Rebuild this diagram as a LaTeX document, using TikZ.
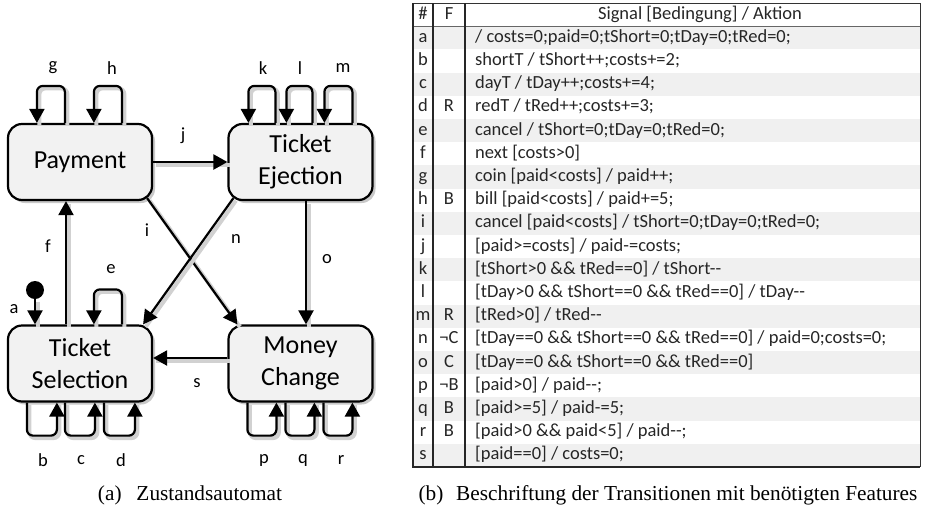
\documentclass[tikz,border=0pt]{standalone}
\usepackage{fontspec}
\setmainfont{Liberation Serif}
\newfontfamily\calib{Carlito}
\usetikzlibrary{arrows.meta,shadows,calc}
\definecolor{boxgray}{HTML}{F2F2F2}
\definecolor{rowgray}{HTML}{F0F0F0}
\tikzset{
  state/.style={draw, line width=2.2pt, rounded corners=14pt, fill=boxgray,
    minimum width=144pt, minimum height=76pt, inner sep=0pt, align=center,
    font=\calib\fontsize{26}{32}\selectfont,
    drop shadow={shadow xshift=3pt, shadow yshift=-3pt, fill=black!30, opacity=0.7}},
  trans/.style={line width=2.2pt, -{Triangle[length=14pt,width=15pt]},
    preaction={draw=black!18, line width=4pt, -, transform canvas={shift={(2.5pt,-2.5pt)}}}},
  selfloop/.style={trans, rounded corners=6pt},
  lab/.style={font=\calib\fontsize{18.5}{20}\selectfont, inner sep=0pt},
  cell/.style={font=\calib\fontsize{18.5}{22}\selectfont, text=black!85, inner sep=0pt,
    text height=13pt, text depth=4pt},
  capstyle/.style={font=\fontsize{21.3}{25}\selectfont, inner sep=0pt, anchor=base}
}
\begin{document}
\begin{tikzpicture}[x=1pt,y=-1pt]
\useasboundingbox (0,0) rectangle (927,512);
% states
\node[state] (pay) at (80,162) {Payment};
\node[state] (te) at (300.5,162) {Ticket\\Ejection};
\node[state] (sel) at (80,363.5) {Ticket\\Selection};
\node[state] (mc) at (300.5,363.5) {Money\\Change};
% helper coordinates
\coordinate (fx) at (66,0);
\coordinate (ox) at (306,0);
\coordinate (sy) at (0,358);
% initial state
\node[circle, fill=black, minimum size=18pt, inner sep=0pt] (init) at (35,290) {};
\draw[trans] (init) -- (init |- sel.north);
% self loops Payment
\draw[selfloop] ([xshift=58pt]pay.north west) -- ++(0,-37) -| ([xshift=30pt]pay.north west);
\draw[selfloop] ([xshift=115pt]pay.north west) -- ++(0,-37) -| ([xshift=87pt]pay.north west);
% self loops Ticket Ejection
\draw[selfloop] ([xshift=48pt]te.north west) -- ++(0,-37) -| ([xshift=21pt]te.north west);
\draw[selfloop] ([xshift=85pt]te.north west) -- ++(0,-37) -| ([xshift=59pt]te.north west);
\draw[selfloop] ([xshift=125pt]te.north west) -- ++(0,-37) -| ([xshift=97pt]te.north west);
% self loop e
\draw[selfloop] ([xshift=115pt]sel.north west) -- ++(0,-35) -| ([xshift=87pt]sel.north west);
% bottom loops Ticket Selection
\draw[selfloop] ([xshift=20pt]sel.south west) -- ++(0,33) -| ([xshift=50pt]sel.south west);
\draw[selfloop] ([xshift=58pt]sel.south west) -- ++(0,33) -| ([xshift=88pt]sel.south west);
\draw[selfloop] ([xshift=97pt]sel.south west) -- ++(0,33) -| ([xshift=128pt]sel.south west);
% bottom loops Money Change
\draw[selfloop] ([xshift=20pt]mc.south west) -- ++(0,33) -| ([xshift=49pt]mc.south west);
\draw[selfloop] ([xshift=58pt]mc.south west) -- ++(0,33) -| ([xshift=87pt]mc.south west);
\draw[selfloop] ([xshift=96pt]mc.south west) -- ++(0,33) -| ([xshift=125pt]mc.south west);
% transitions
\draw[trans] (pay.east) -- (te.west);
\draw[trans] (sel.north -| fx) -- (pay.south -| fx);
\draw[trans] (te.south -| ox) -- (mc.north -| ox);
\draw[trans] (mc.west |- sy) -- (sel.east |- sy);
\draw[trans] ($(pay.south east)+(-6,-3)$) -- ($(mc.north west)+(10,0)$);
\draw[trans] ($(te.south west)+(6,-3)$) -- ($(sel.north east)+(-10,0)$);
% labels
\node[lab] at (53,68) {g};
\node[lab] at (112,68) {h};
\node[lab] at (263,68) {k};
\node[lab] at (300,68) {l};
\node[lab] at (343,68) {m};
\node[lab] at (183,136) {j};
\node[lab] at (147,230) {i};
\node[lab] at (236,239) {n};
\node[lab] at (48,246) {f};
\node[lab] at (327,259) {o};
\node[lab] at (111,269) {e};
\node[lab] at (14,309) {a};
\node[lab] at (197,383) {s};
\node[lab] at (43,460) {b};
\node[lab] at (81,460) {c};
\node[lab] at (121,460) {d};
\node[lab] at (264,460) {p};
\node[lab] at (303,460) {q};
\node[lab] at (341,460) {r};
% table
\foreach \k in {1,3,...,19}
  \fill[rowgray] (413,{3+23.2*\k}) rectangle (920,{3+23.2*(\k+1)});
\node[cell] (h1) at (423,{3+23.2*0.5}) {\#};
\node[cell] (h2) at (449,{3+23.2*0.5}) {F};
\node[cell] (h3) at (700,{3+23.2*0.5}) {Signal [Bedingung] / Aktion};
\foreach \c/\f/\t [count=\i] in {
  a/{}/{/ costs=0;paid=0;tShort=0;tDay=0;tRed=0;},
  b/{}/{shortT / tShort++;costs+=2;},
  c/{}/{dayT / tDay++;costs+=4;},
  d/{R}/{redT / tRed++;costs+=3;},
  e/{}/{cancel / tShort=0;tDay=0;tRed=0;},
  f/{}/{next [costs>0]},
  g/{}/{coin [paid<costs] / paid++;},
  h/{B}/{bill [paid<costs] / paid+=5;},
  i/{}/{cancel [paid<costs] / tShort=0;tDay=0;tRed=0;},
  j/{}/{[paid>=costs] / paid-=costs;},
  k/{}/{[tShort>0 \&\& tRed==0] / tShort-{}-},
  l/{}/{[tDay>0 \&\& tShort==0 \&\& tRed==0] / tDay-{}-},
  m/{R}/{[tRed>0] / tRed-{}-},
  n/{¬C}/{[tDay==0 \&\& tShort==0 \&\& tRed==0] / paid=0;costs=0;},
  o/{C}/{[tDay==0 \&\& tShort==0 \&\& tRed==0]},
  p/{¬B}/{[paid>0] / paid-{}-;},
  q/{B}/{[paid>=5] / paid-=5;},
  r/{B}/{[paid>0 \&\& paid<5] / paid-{}-;},
  s/{}/{[paid==0] / costs=0;}}
{
  \node[cell] (c\i) at (423,{3+23.2*(\i+0.5)}) {\c};
  \node[cell] (f\i) at (449,{3+23.2*(\i+0.5)}) {\f};
  \node[cell, anchor=west] (t\i) at (475,{3+23.2*(\i+0.5)}) {\t};
}
\draw[line width=0.8pt, black!60] (413,26.2) -- (920,26.2);
\draw[line width=1pt, black!80] (413,3) -- (920,3) -- (920,467);
\draw[line width=2pt, black!85] (413,3) -- (413,467) -- (920,467);
\draw[line width=2pt, black!85] (433,3) -- (433,467);
\draw[line width=2pt, black!85] (465,3) -- (465,467);
% captions
\node[capstyle] (capa) at (190,500) {(a)\hskip0.7em Zustandsautomat};
\node[capstyle] (capb) at (668,500) {(b)\hskip0.6em Beschriftung der Transitionen mit benötigten Features};
\end{tikzpicture}
\end{document}
